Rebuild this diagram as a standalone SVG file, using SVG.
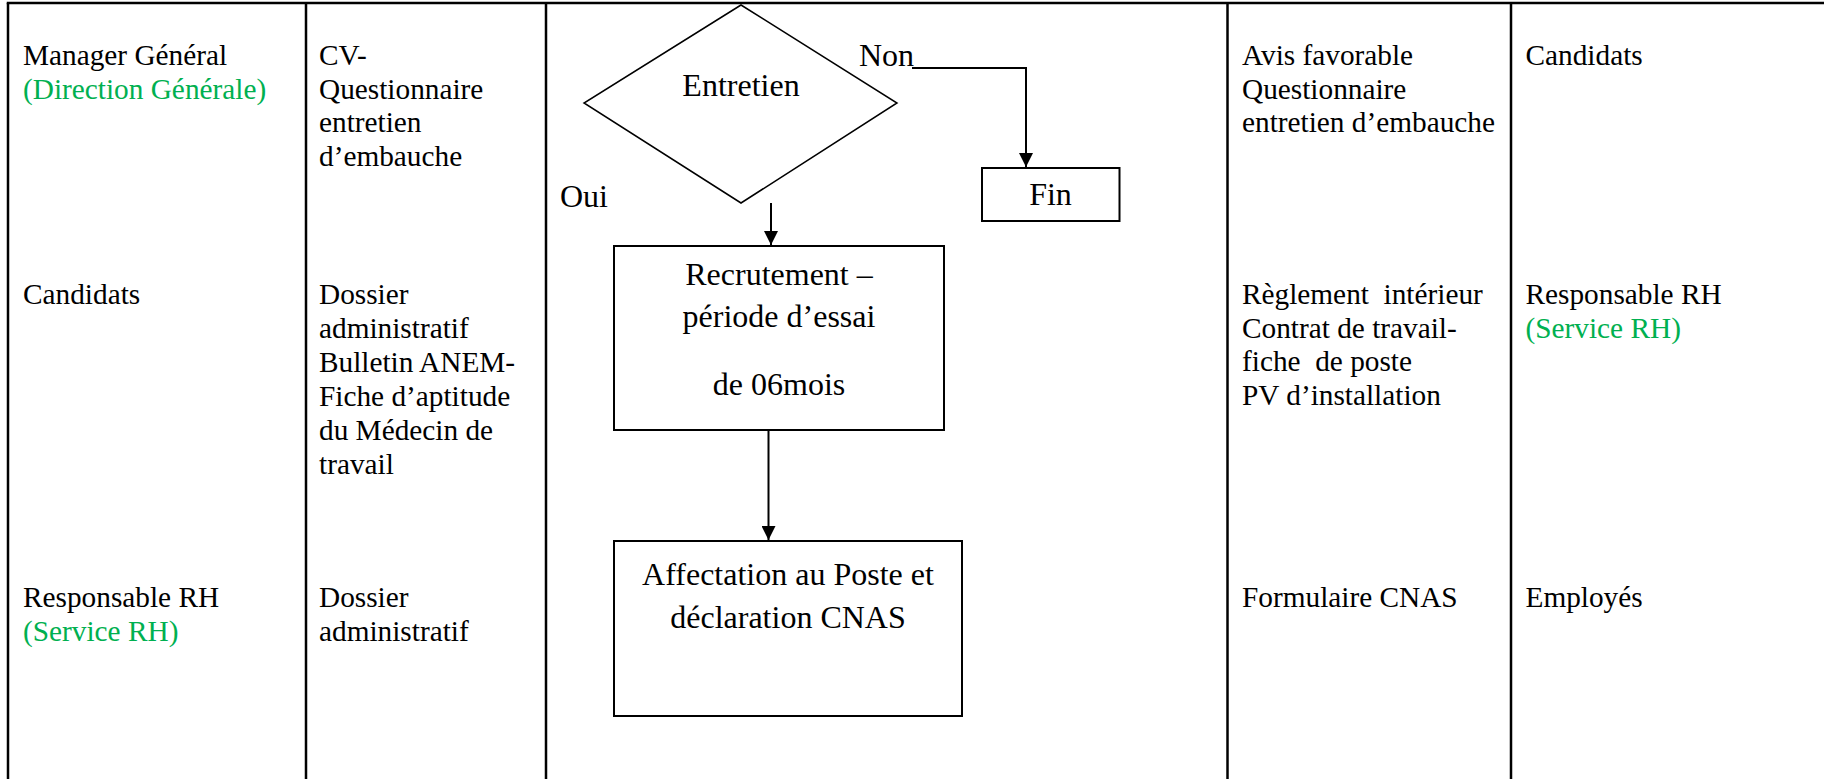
<svg xmlns="http://www.w3.org/2000/svg" width="1824" height="779" viewBox="0 0 1824 779">
  <style>
    .grid { stroke: #000; stroke-width: 2.5; fill: none; }
    .cell { font-family: "Liberation Serif", "Times New Roman", serif; font-size: 29.3px; fill: #000; }
    .green { fill: #00B050; }
    .shape { fill: #fff; stroke: #000; stroke-width: 2; }
    .diamond { fill: #fff; stroke: #000; stroke-width: 1.5; }
    .label { font-family: "Liberation Serif", "Times New Roman", serif; font-size: 32px; fill: #000; text-anchor: middle; }
    .flow { font-family: "Liberation Serif", "Times New Roman", serif; font-size: 32px; fill: #000; }
    .conn { stroke: #000; stroke-width: 2; fill: none; marker-end: url(#arrow); }
  </style>
  <defs>
    <marker id="arrow" markerUnits="userSpaceOnUse" markerWidth="14" markerHeight="14" refX="14" refY="7" orient="auto">
      <path d="M0,0 L14,7 L0,14 z" fill="#000"/>
    </marker>
  </defs>

  <rect width="1824" height="779" fill="#fff"/>

  <!-- table frame: top rule and column dividers -->
  <g id="table-grid" class="grid">
    <line x1="6.75" y1="3" x2="1824" y2="3"/>
    <line x1="8" y1="3" x2="8" y2="779"/>
    <line x1="306" y1="3" x2="306" y2="779"/>
    <line x1="546" y1="3" x2="546" y2="779"/>
    <line x1="1227.5" y1="3" x2="1227.5" y2="779"/>
    <line x1="1511" y1="3" x2="1511" y2="779"/>
  </g>

  <!-- column 1: actors -->
  <g id="col-actors" class="cell">
    <text x="23" y="65">Manager Général</text>
    <text x="23" y="98.5" class="green">(Direction Générale)</text>
    <text x="23" y="304">Candidats</text>
    <text x="23" y="607">Responsable RH</text>
    <text x="23" y="640.5" class="green">(Service RH)</text>
  </g>

  <!-- column 2: input documents -->
  <g id="col-inputs" class="cell">
    <text x="319" y="65">CV-</text>
    <text x="319" y="98.5">Questionnaire</text>
    <text x="319" y="132">entretien</text>
    <text x="319" y="165.5">d’embauche</text>
    <text x="319" y="304">Dossier</text>
    <text x="319" y="338">administratif</text>
    <text x="319" y="372">Bulletin ANEM-</text>
    <text x="319" y="406">Fiche d’aptitude</text>
    <text x="319" y="440">du Médecin de</text>
    <text x="319" y="474">travail</text>
    <text x="319" y="607">Dossier</text>
    <text x="319" y="640.5">administratif</text>
  </g>

  <!-- column 5: output documents -->
  <g id="col-outputs" class="cell">
    <text x="1242" y="65">Avis favorable</text>
    <text x="1242" y="98.5">Questionnaire</text>
    <text x="1242" y="132">entretien d’embauche</text>
    <text x="1242" y="304" xml:space="preserve">Règlement  intérieur</text>
    <text x="1242" y="337.5">Contrat de travail-</text>
    <text x="1242" y="371" xml:space="preserve">fiche  de poste</text>
    <text x="1242" y="404.5">PV d’installation</text>
    <text x="1242" y="607">Formulaire CNAS</text>
  </g>

  <!-- column 6: recipients -->
  <g id="col-recipients" class="cell">
    <text x="1525.5" y="65">Candidats</text>
    <text x="1525.5" y="304">Responsable RH</text>
    <text x="1525.5" y="337.5" class="green">(Service RH)</text>
    <text x="1525.5" y="607">Employés</text>
  </g>

  <!-- flowchart nodes -->
  <g id="node-entretien">
    <polygon class="diamond" points="741,5 897,103 741,203 584,103"/>
    <text class="label" x="741" y="96">Entretien</text>
  </g>

  <g id="node-fin">
    <rect class="shape" x="982" y="168" width="137.5" height="53"/>
    <text class="label" x="1050.5" y="205">Fin</text>
  </g>

  <g id="node-recrutement">
    <rect class="shape" x="614" y="246" width="330" height="184"/>
    <text class="label" x="779" y="285">Recrutement –</text>
    <text class="label" x="779" y="327">période d’essai</text>
    <text class="label" x="779" y="395">de 06mois</text>
  </g>

  <g id="node-affectation">
    <rect class="shape" x="614" y="541" width="348" height="175"/>
    <text class="label" x="788" y="585">Affectation au Poste et</text>
    <text class="label" x="788" y="628">déclaration CNAS</text>
  </g>

  <!-- connectors -->
  <g id="connectors">
    <path class="conn" d="M912,68 H1026 V167"/>
    <path class="conn" d="M771,203 V245"/>
    <path class="conn" d="M768.5,430 V540"/>
    <text class="flow" x="859" y="66">Non</text>
    <text class="flow" x="560" y="207">Oui</text>
  </g>
</svg>
